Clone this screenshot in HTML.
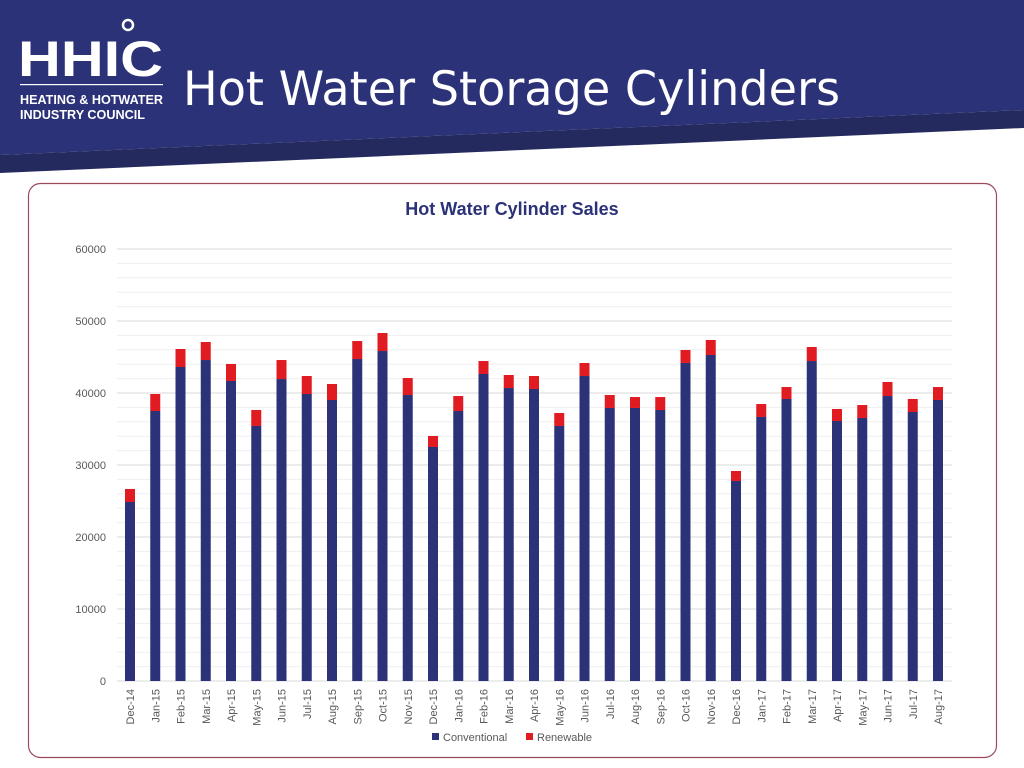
<!DOCTYPE html>
<html><head><meta charset="utf-8"><style>
body{margin:0;width:1024px;height:768px;background:#fff;font-family:"Liberation Sans",sans-serif;overflow:hidden;position:relative}
</style></head><body>
<svg width="1024" height="768" style="position:absolute;left:0;top:0">
<polygon points="0,0 1024,0 1024,110 0,155" fill="#2b3278"/>
<polygon points="0,155 1024,110 1024,128 0,173" fill="#252a5e"/>
<g fill="#fff">
<text x="18" y="76" font-size="50" font-weight="bold" font-family="Liberation Sans" textLength="145" lengthAdjust="spacingAndGlyphs">HHIC</text>
<circle cx="128" cy="25" r="5" fill="none" stroke="#fff" stroke-width="2.5"/>
<rect x="20" y="84" width="143" height="1.2"/>
<text x="20" y="104" font-size="13" font-weight="bold" textLength="143" lengthAdjust="spacingAndGlyphs">HEATING &amp; HOTWATER</text>
<text x="20" y="119" font-size="13" font-weight="bold" textLength="125" lengthAdjust="spacingAndGlyphs">INDUSTRY COUNCIL</text>
</g>
<text x="183" y="105" font-size="47" fill="#fff" font-family="DejaVu Sans" textLength="657" lengthAdjust="spacingAndGlyphs">Hot Water Storage Cylinders</text>
<rect x="28.5" y="183.5" width="968" height="574" rx="12" fill="#fff" stroke="#9a4a5a" stroke-width="1.2"/>
<text x="512" y="215" text-anchor="middle" font-size="18" font-weight="bold" fill="#2b3278">Hot Water Cylinder Sales</text>
<g id="grid"></g><g id="bars"></g><g id="xl"></g>
<g>
<rect x="432" y="733" width="7" height="7" fill="#2b3278"/><text x="443" y="741" font-size="11" fill="#595959">Conventional</text>
<rect x="526" y="733" width="7" height="7" fill="#e01b22"/><text x="537" y="741" font-size="11" fill="#595959">Renewable</text>
</g>
</svg>
<script>
const categories=["Dec-14","Jan-15","Feb-15","Mar-15","Apr-15","May-15","Jun-15","Jul-15","Aug-15","Sep-15","Oct-15","Nov-15","Dec-15","Jan-16","Feb-16","Mar-16","Apr-16","May-16","Jun-16","Jul-16","Aug-16","Sep-16","Oct-16","Nov-16","Dec-16","Jan-17","Feb-17","Mar-17","Apr-17","May-17","Jun-17","Jul-17","Aug-17"];
const conventional=[24860,37500,43610,44580,41670,35420,41940,39860,39030,44720,45830,39720,32500,37500,42640,40690,40560,35420,42360,37920,37920,37640,44170,45280,27780,36670,39170,44440,36110,36530,39580,37360,39030];
const renewable=[1810,2360,2500,2500,2360,2220,2640,2500,2220,2500,2500,2360,1530,2080,1800,1810,1800,1800,1810,1800,1520,1800,1800,2080,1390,1800,1660,1950,1670,1800,1950,1810,1800];
const yTicks=[0,10000,20000,30000,40000,50000,60000];
const NS='http://www.w3.org/2000/svg';
const y=v=>681-v*432/60000;
const x=i=>130+i*25.25;
function mk(t,a,p){const e=document.createElementNS(NS,t);for(const k in a)e.setAttribute(k,a[k]);document.getElementById(p).appendChild(e);return e;}
for(let v=0;v<=60000;v+=2000){
 const major=v%10000===0;
 const l=mk('line',{x1:117,x2:952,y1:y(v),y2:y(v),stroke:major?'#d9d9d9':'#efefef','stroke-width':1},'grid');
 
 
}
yTicks.forEach(v=>{
 const t=mk('text',{x:106,y:y(v)+4,'text-anchor':'end','font-size':11,fill:'#595959'},'grid');t.textContent=v;
 
 
});
categories.forEach((c,i)=>{
 const b=mk('rect',{x:x(i)-5,y:y(conventional[i]),width:10,height:y(0)-y(conventional[i]),fill:'#2b3278'},'bars');
 
 
 const tot=conventional[i]+renewable[i];
 const r=mk('rect',{x:x(i)-5,y:y(tot),width:10,height:y(conventional[i])-y(tot),fill:'#e01b22'},'bars');
 
 
 const t=mk('text',{transform:`translate(${x(i)+4},689) rotate(-90)`,'text-anchor':'end','font-size':11,fill:'#595959'},'xl');t.textContent=c;
 
 
});
</script>
</body></html>
